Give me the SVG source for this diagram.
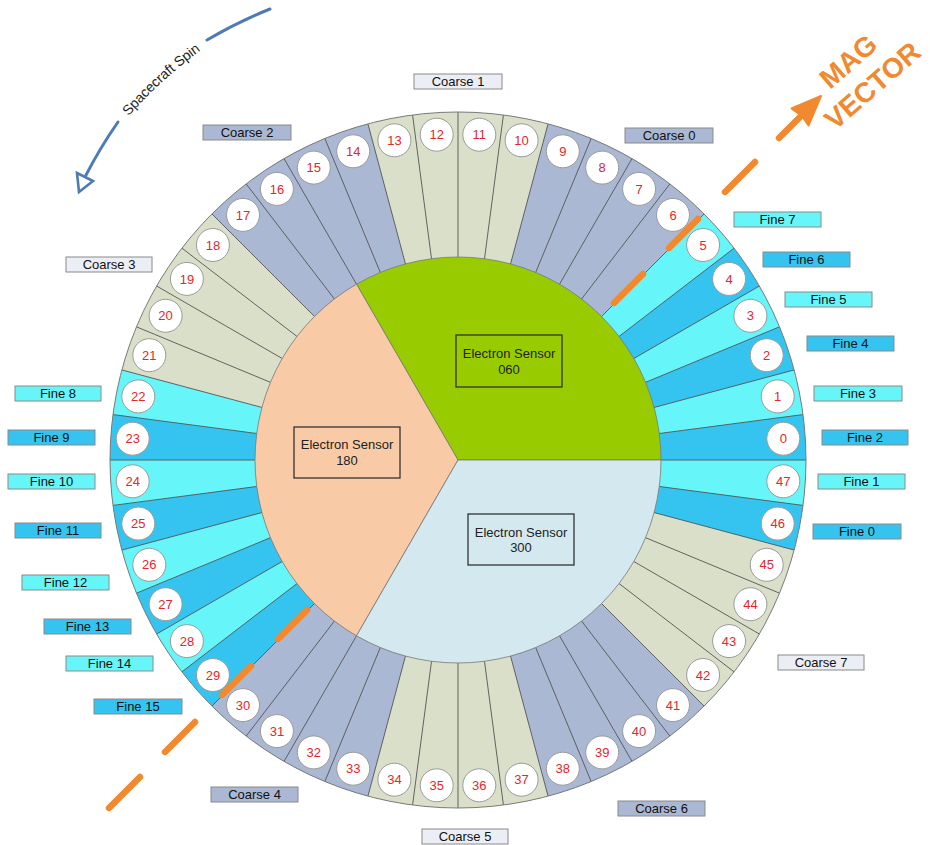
<svg xmlns="http://www.w3.org/2000/svg" width="930" height="845" viewBox="0 0 930 845">
<style>
text{font-family:"Liberation Sans",Arial,sans-serif;}
.lbl rect{stroke:#8a8a8a;stroke-width:1;}
.lbl text{font-size:13px;fill:#111;text-anchor:middle;}
.cb{fill:#aab8d3;} .cl{fill:#eceef5;} .fl{fill:#66f5f8;} .fd{fill:#35c4f0;}
.bg{fill:#aab8d3;} .be{fill:#dadfc9;}
.num circle{fill:#fff;stroke:#9a9a9a;stroke-width:1;}
.num text{font-size:13px;fill:#e0282e;text-anchor:middle;}
.rad line{stroke:#555;stroke-width:0.9;}
.sensor rect{fill:none;stroke:#333;stroke-width:1.3;}
.sensor text{font-size:13px;fill:#222;text-anchor:middle;}
.pie{stroke:#777;stroke-width:0.8;}
.dash{stroke:#f0892f;stroke-width:6.5;stroke-linecap:round;fill:none;}
.spin{stroke:#4f7bb5;stroke-width:3;fill:none;stroke-linecap:round;}
</style>
<defs>
<path id="spinpath" d="M112,128 A467,467 0 0,1 214,35"/>
</defs>
<rect width="930" height="845" fill="#fff"/>

<!-- ring -->
<g id="ring">
<circle cx="458" cy="460" r="348" class="be"/>
<path class="bg" d="M458,460 L704.07,213.93 A348,348 0 0,0 548.07,123.86 Z"/>
<path class="bg" d="M458,460 L367.93,123.86 A348,348 0 0,0 211.93,213.93 Z"/>
<path class="bg" d="M458,460 L211.93,706.07 A348,348 0 0,0 367.93,796.14 Z"/>
<path class="bg" d="M458,460 L548.07,796.14 A348,348 0 0,0 704.07,706.07 Z"/>
<path class="fl" d="M458,460 L794.14,550.07 A348,348 0 0,0 704.07,213.93 Z"/>
<path class="fl" d="M458,460 L121.86,369.93 A348,348 0 0,0 211.93,706.07 Z"/>
<path class="fd" d="M458,460 L794.14,550.07 A348,348 0 0,0 803.02,505.42 Z"/>
<path class="fd" d="M458,460 L806,460 A348,348 0 0,0 803.02,414.58 Z"/>
<path class="fd" d="M458,460 L794.14,369.93 A348,348 0 0,0 779.51,326.83 Z"/>
<path class="fd" d="M458,460 L759.38,286 A348,348 0 0,0 734.09,248.15 Z"/>
<path class="fd" d="M458,460 L112.98,414.58 A348,348 0 0,0 110,460 Z"/>
<path class="fd" d="M458,460 L112.98,505.42 A348,348 0 0,0 121.86,550.07 Z"/>
<path class="fd" d="M458,460 L136.49,593.17 A348,348 0 0,0 156.62,634 Z"/>
<path class="fd" d="M458,460 L181.91,671.85 A348,348 0 0,0 211.93,706.07 Z"/>
<g class="rad">
<line x1="110" y1="460" x2="806" y2="460"/>
<line x1="803.02" y1="414.58" x2="112.98" y2="505.42"/>
<line x1="794.14" y1="369.93" x2="121.86" y2="550.07"/>
<line x1="779.51" y1="326.83" x2="136.49" y2="593.17"/>
<line x1="759.38" y1="286" x2="156.62" y2="634"/>
<line x1="734.09" y1="248.15" x2="181.91" y2="671.85"/>
<line x1="704.07" y1="213.93" x2="211.93" y2="706.07"/>
<line x1="669.85" y1="183.91" x2="246.15" y2="736.09"/>
<line x1="632" y1="158.62" x2="284" y2="761.38"/>
<line x1="591.17" y1="138.49" x2="324.83" y2="781.51"/>
<line x1="548.07" y1="123.86" x2="367.93" y2="796.14"/>
<line x1="503.42" y1="114.98" x2="412.58" y2="805.02"/>
<line x1="458" y1="112" x2="458" y2="808"/>
<line x1="412.58" y1="114.98" x2="503.42" y2="805.02"/>
<line x1="367.93" y1="123.86" x2="548.07" y2="796.14"/>
<line x1="324.83" y1="138.49" x2="591.17" y2="781.51"/>
<line x1="284" y1="158.62" x2="632" y2="761.38"/>
<line x1="246.15" y1="183.91" x2="669.85" y2="736.09"/>
<line x1="211.93" y1="213.93" x2="704.07" y2="706.07"/>
<line x1="181.91" y1="248.15" x2="734.09" y2="671.85"/>
<line x1="156.62" y1="286" x2="759.38" y2="634"/>
<line x1="136.49" y1="326.83" x2="779.51" y2="593.17"/>
<line x1="121.86" y1="369.93" x2="794.14" y2="550.07"/>
<line x1="112.98" y1="414.58" x2="803.02" y2="505.42"/>
</g>
<circle cx="458" cy="460" r="348" fill="none" stroke="#7a7a7a" stroke-width="1"/>
</g>

<!-- inner sensors -->
<g id="sensor060" class="sensor">
<path class="pie" fill="#99cc00" d="M458,460 L661,460 A203,203 0 0,0 356.5,284.2 Z"/>
<rect x="456" y="335" width="106" height="52"/>
<text x="509" y="358">Electron Sensor</text>
<text x="509" y="374">060</text>
</g>
<g id="sensor180" class="sensor">
<path class="pie" fill="#f8cba6" d="M458,460 L356.5,284.2 A203,203 0 0,0 356.5,635.8 Z"/>
<rect x="294" y="427" width="106" height="51"/>
<text x="347" y="449">Electron Sensor</text>
<text x="347" y="465">180</text>
</g>
<g id="sensor300" class="sensor">
<path class="pie" fill="#d4e8ef" d="M458,460 L356.5,635.8 A203,203 0 0,0 661,460 Z"/>
<rect x="468" y="514" width="106" height="51"/>
<text x="521" y="537">Electron Sensor</text>
<text x="521" y="552">300</text>
</g>

<!-- connectors / arrows -->
<g id="connectors">
<g id="mag-vector">
<line class="dash" x1="109" y1="808" x2="140" y2="777"/>
<line class="dash" x1="165" y1="752" x2="195" y2="722"/>
<line class="dash" x1="222" y1="695" x2="251" y2="666"/>
<line class="dash" x1="278" y1="639" x2="307" y2="610"/>
<line class="dash" x1="614" y1="303" x2="643" y2="274"/>
<line class="dash" x1="669" y1="248" x2="698" y2="219"/>
<line class="dash" x1="725" y1="192" x2="755" y2="162"/>
<line class="dash" x1="779" y1="138" x2="800" y2="117"/>
<polygon points="821,96 808.5,125.5 802,116 791.5,108.5" fill="#f0892f" stroke="#f0892f" stroke-width="2" stroke-linejoin="round"/>
</g>
<g id="spacecraft-spin">
<path class="spin" d="M270,9 A467,467 0 0,0 207,40"/>
<path class="spin" d="M118,122 A467,467 0 0,0 85,177"/>
<polygon points="77,173 93,181 79,192" fill="#fff" stroke="#4f7bb5" stroke-width="2.6" stroke-linejoin="miter"/>
</g>
</g>

<text font-size="14" fill="#222" dy="5"><textPath href="#spinpath" startOffset="50%" text-anchor="middle">Spacecraft Spin</textPath></text>
<g id="mag-text" font-weight="bold" font-size="28" fill="#f0892f">
<text transform="translate(830,90) rotate(-41)">MAG</text>
<text transform="translate(835,131) rotate(-41)">VECTOR</text>
</g>

<!-- segment numbers -->
<g class="num">
<g id="seg0"><circle cx="783.3" cy="438.7" r="16.5"/><text x="783.3" y="443.3">0</text></g>
<g id="seg1"><circle cx="777.7" cy="396.4" r="16.5"/><text x="777.7" y="401">1</text></g>
<g id="seg2"><circle cx="766.7" cy="355.2" r="16.5"/><text x="766.7" y="359.8">2</text></g>
<g id="seg3"><circle cx="750.4" cy="315.8" r="16.5"/><text x="750.4" y="320.4">3</text></g>
<g id="seg4"><circle cx="729.1" cy="278.9" r="16.5"/><text x="729.1" y="283.5">4</text></g>
<g id="seg5"><circle cx="703.1" cy="245" r="16.5"/><text x="703.1" y="249.6">5</text></g>
<g id="seg6"><circle cx="673" cy="214.9" r="16.5"/><text x="673" y="219.5">6</text></g>
<g id="seg7"><circle cx="639.1" cy="188.9" r="16.5"/><text x="639.1" y="193.5">7</text></g>
<g id="seg8"><circle cx="602.2" cy="167.6" r="16.5"/><text x="602.2" y="172.2">8</text></g>
<g id="seg9"><circle cx="562.8" cy="151.3" r="16.5"/><text x="562.8" y="155.9">9</text></g>
<g id="seg10"><circle cx="521.6" cy="140.3" r="16.5"/><text x="521.6" y="144.9">10</text></g>
<g id="seg11"><circle cx="479.3" cy="134.7" r="16.5"/><text x="479.3" y="139.3">11</text></g>
<g id="seg12"><circle cx="436.7" cy="134.7" r="16.5"/><text x="436.7" y="139.3">12</text></g>
<g id="seg13"><circle cx="394.4" cy="140.3" r="16.5"/><text x="394.4" y="144.9">13</text></g>
<g id="seg14"><circle cx="353.2" cy="151.3" r="16.5"/><text x="353.2" y="155.9">14</text></g>
<g id="seg15"><circle cx="313.8" cy="167.6" r="16.5"/><text x="313.8" y="172.2">15</text></g>
<g id="seg16"><circle cx="276.9" cy="188.9" r="16.5"/><text x="276.9" y="193.5">16</text></g>
<g id="seg17"><circle cx="243" cy="214.9" r="16.5"/><text x="243" y="219.5">17</text></g>
<g id="seg18"><circle cx="212.9" cy="245" r="16.5"/><text x="212.9" y="249.6">18</text></g>
<g id="seg19"><circle cx="186.9" cy="278.9" r="16.5"/><text x="186.9" y="283.5">19</text></g>
<g id="seg20"><circle cx="165.6" cy="315.8" r="16.5"/><text x="165.6" y="320.4">20</text></g>
<g id="seg21"><circle cx="149.3" cy="355.2" r="16.5"/><text x="149.3" y="359.8">21</text></g>
<g id="seg22"><circle cx="138.3" cy="396.4" r="16.5"/><text x="138.3" y="401">22</text></g>
<g id="seg23"><circle cx="132.7" cy="438.7" r="16.5"/><text x="132.7" y="443.3">23</text></g>
<g id="seg24"><circle cx="132.7" cy="481.3" r="16.5"/><text x="132.7" y="485.9">24</text></g>
<g id="seg25"><circle cx="138.3" cy="523.6" r="16.5"/><text x="138.3" y="528.2">25</text></g>
<g id="seg26"><circle cx="149.3" cy="564.8" r="16.5"/><text x="149.3" y="569.4">26</text></g>
<g id="seg27"><circle cx="165.6" cy="604.2" r="16.5"/><text x="165.6" y="608.8">27</text></g>
<g id="seg28"><circle cx="186.9" cy="641.1" r="16.5"/><text x="186.9" y="645.7">28</text></g>
<g id="seg29"><circle cx="212.9" cy="675" r="16.5"/><text x="212.9" y="679.6">29</text></g>
<g id="seg30"><circle cx="243" cy="705.1" r="16.5"/><text x="243" y="709.7">30</text></g>
<g id="seg31"><circle cx="276.9" cy="731.1" r="16.5"/><text x="276.9" y="735.7">31</text></g>
<g id="seg32"><circle cx="313.8" cy="752.4" r="16.5"/><text x="313.8" y="757">32</text></g>
<g id="seg33"><circle cx="353.2" cy="768.7" r="16.5"/><text x="353.2" y="773.3">33</text></g>
<g id="seg34"><circle cx="394.4" cy="779.7" r="16.5"/><text x="394.4" y="784.3">34</text></g>
<g id="seg35"><circle cx="436.7" cy="785.3" r="16.5"/><text x="436.7" y="789.9">35</text></g>
<g id="seg36"><circle cx="479.3" cy="785.3" r="16.5"/><text x="479.3" y="789.9">36</text></g>
<g id="seg37"><circle cx="521.6" cy="779.7" r="16.5"/><text x="521.6" y="784.3">37</text></g>
<g id="seg38"><circle cx="562.8" cy="768.7" r="16.5"/><text x="562.8" y="773.3">38</text></g>
<g id="seg39"><circle cx="602.2" cy="752.4" r="16.5"/><text x="602.2" y="757">39</text></g>
<g id="seg40"><circle cx="639.1" cy="731.1" r="16.5"/><text x="639.1" y="735.7">40</text></g>
<g id="seg41"><circle cx="673" cy="705.1" r="16.5"/><text x="673" y="709.7">41</text></g>
<g id="seg42"><circle cx="703.1" cy="675" r="16.5"/><text x="703.1" y="679.6">42</text></g>
<g id="seg43"><circle cx="729.1" cy="641.1" r="16.5"/><text x="729.1" y="645.7">43</text></g>
<g id="seg44"><circle cx="750.4" cy="604.2" r="16.5"/><text x="750.4" y="608.8">44</text></g>
<g id="seg45"><circle cx="766.7" cy="564.8" r="16.5"/><text x="766.7" y="569.4">45</text></g>
<g id="seg46"><circle cx="777.7" cy="523.6" r="16.5"/><text x="777.7" y="528.2">46</text></g>
<g id="seg47"><circle cx="783.3" cy="481.3" r="16.5"/><text x="783.3" y="485.9">47</text></g>
</g>

<!-- outer labels -->
<g class="lbl">
<g id="coarse0"><rect class="cb" x="625" y="128" width="88" height="15"/><text x="669" y="140">Coarse 0</text></g>
<g id="coarse1"><rect class="cl" x="414" y="74" width="88" height="15"/><text x="458" y="86">Coarse 1</text></g>
<g id="coarse2"><rect class="cb" x="203" y="125" width="88" height="15"/><text x="247" y="137">Coarse 2</text></g>
<g id="coarse3"><rect class="cl" x="66" y="257" width="86" height="15"/><text x="109" y="269">Coarse 3</text></g>
<g id="coarse4"><rect class="cb" x="211" y="787" width="87" height="15"/><text x="254.5" y="799">Coarse 4</text></g>
<g id="coarse5"><rect class="cl" x="422" y="829" width="86" height="15"/><text x="465" y="841">Coarse 5</text></g>
<g id="coarse6"><rect class="cb" x="618" y="801" width="87" height="15"/><text x="661.5" y="813">Coarse 6</text></g>
<g id="coarse7"><rect class="cl" x="778" y="655" width="86" height="15"/><text x="821" y="667">Coarse 7</text></g>
<g id="fine0"><rect class="fd" x="813" y="524" width="88" height="15"/><text x="857" y="536">Fine 0</text></g>
<g id="fine1"><rect class="fl" x="818" y="474" width="87" height="15"/><text x="861.5" y="486">Fine 1</text></g>
<g id="fine2"><rect class="fd" x="822" y="430" width="86" height="15"/><text x="865" y="442">Fine 2</text></g>
<g id="fine3"><rect class="fl" x="814" y="386" width="88" height="15"/><text x="858" y="398">Fine 3</text></g>
<g id="fine4"><rect class="fd" x="807" y="336" width="87" height="15"/><text x="850.5" y="348">Fine 4</text></g>
<g id="fine5"><rect class="fl" x="785" y="292" width="87" height="15"/><text x="828.5" y="304">Fine 5</text></g>
<g id="fine6"><rect class="fd" x="763" y="252" width="87" height="15"/><text x="806.5" y="264">Fine 6</text></g>
<g id="fine7"><rect class="fl" x="734" y="212" width="87" height="15"/><text x="777.5" y="224">Fine 7</text></g>
<g id="fine8"><rect class="fl" x="15" y="386" width="86" height="15"/><text x="58" y="398">Fine 8</text></g>
<g id="fine9"><rect class="fd" x="8" y="430" width="87" height="15"/><text x="51.5" y="442">Fine 9</text></g>
<g id="fine10"><rect class="fl" x="8" y="474" width="87" height="15"/><text x="51.5" y="486">Fine 10</text></g>
<g id="fine11"><rect class="fd" x="15" y="523" width="86" height="15"/><text x="58" y="535">Fine 11</text></g>
<g id="fine12"><rect class="fl" x="22" y="575" width="87" height="15"/><text x="65.5" y="587">Fine 12</text></g>
<g id="fine13"><rect class="fd" x="44" y="619" width="87" height="15"/><text x="87.5" y="631">Fine 13</text></g>
<g id="fine14"><rect class="fl" x="66" y="656" width="87" height="15"/><text x="109.5" y="668">Fine 14</text></g>
<g id="fine15"><rect class="fd" x="94" y="699" width="88" height="15"/><text x="138" y="711">Fine 15</text></g>
</g>
</svg>
